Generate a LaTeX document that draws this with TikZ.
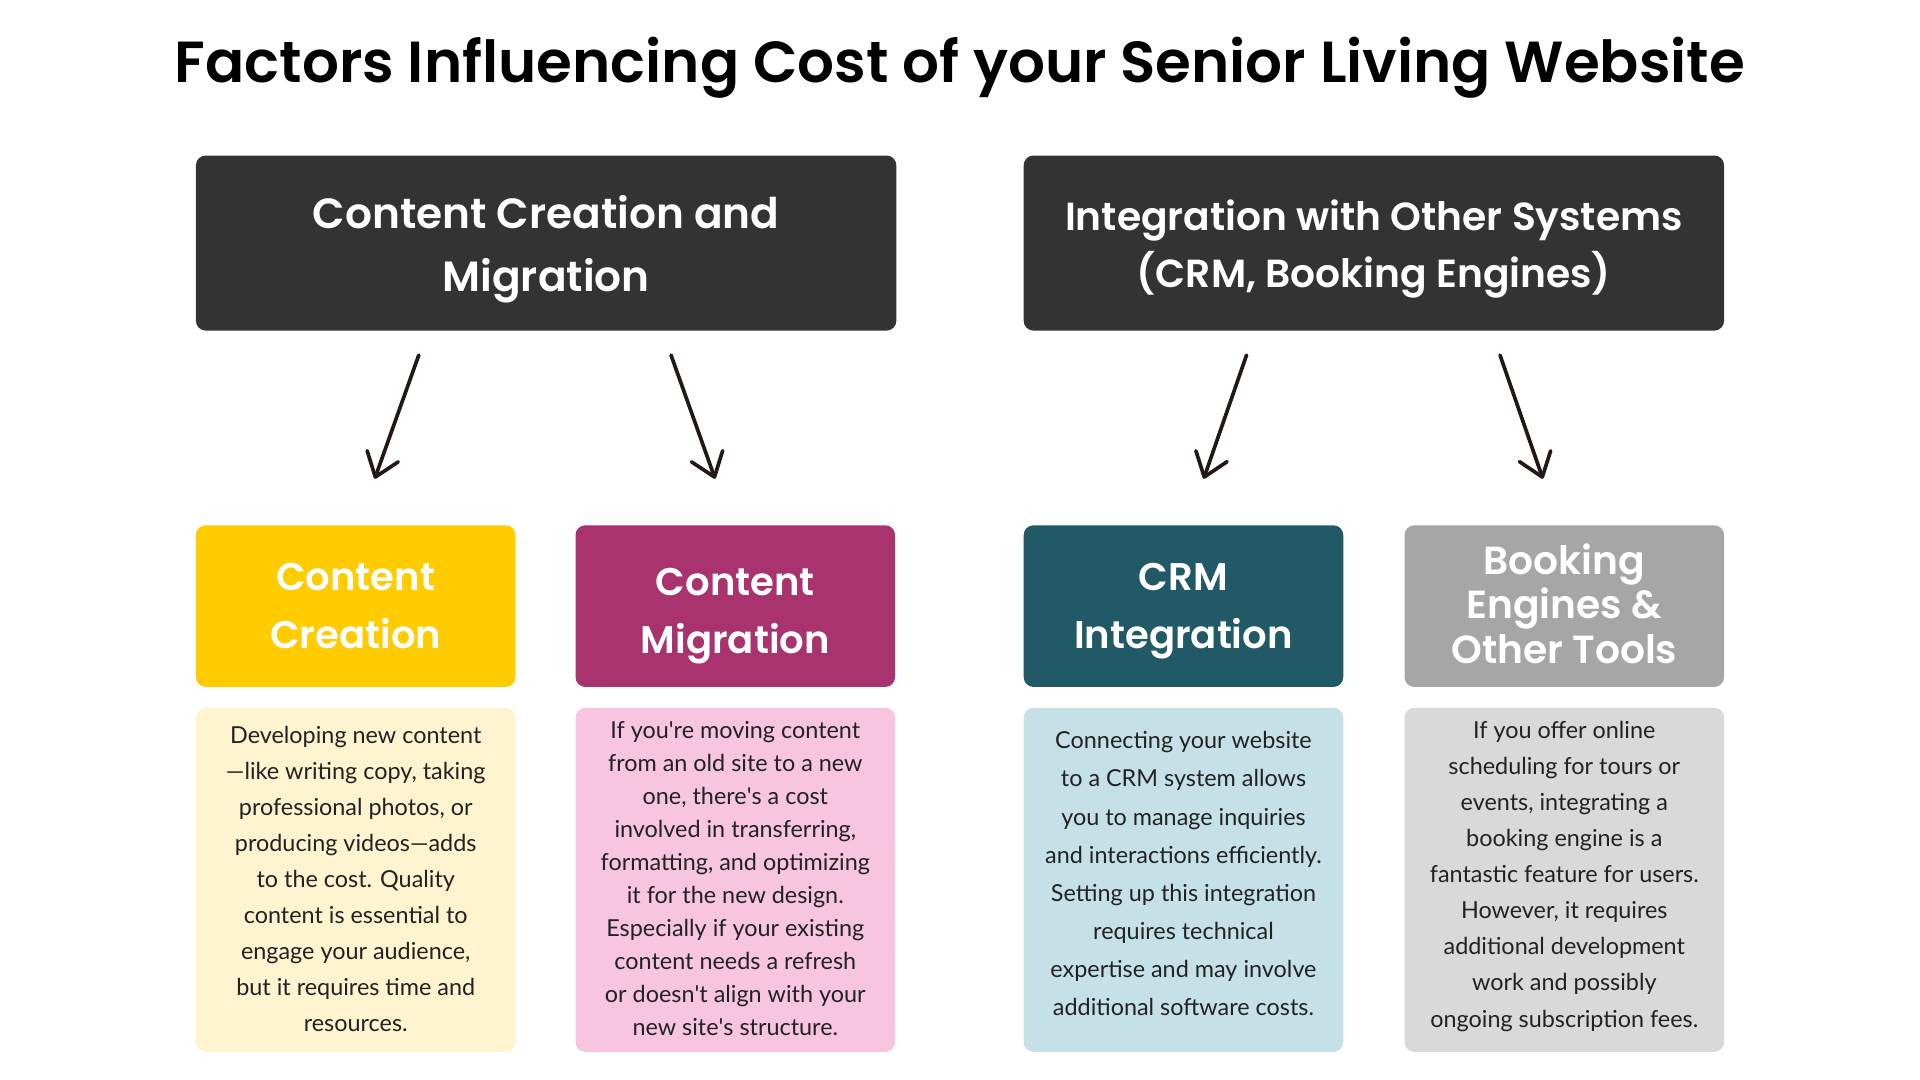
\documentclass[tikz,border=0pt]{standalone}
\usepackage{fontspec}
\setmainfont{Lato}
\newfontfamily\headfont{Poppins}[BoldFont={Poppins SemiBold}]
\usetikzlibrary{arrows.meta}
\definecolor{topdark}{HTML}{333333}
\definecolor{ccyellow}{HTML}{FFCC00}
\definecolor{cmplum}{HTML}{A8336F}
\definecolor{crmteal}{HTML}{215966}
\definecolor{bkgrey}{HTML}{A6A6A6}
\definecolor{ccpale}{HTML}{FFF4CF}
\definecolor{cmpale}{HTML}{F7C5E0}
\definecolor{crmpale}{HTML}{C5E1E7}
\definecolor{bkpale}{HTML}{D9D9D9}
\definecolor{bodytext}{HTML}{222222}
\definecolor{arrowink}{HTML}{231815}

\tikzset{
  topbox/.style={fill=topdark, rounded corners=8pt, minimum width=572pt, minimum height=143pt,
    inner sep=0pt},
  subbox/.style={fill=#1, rounded corners=8pt, minimum width=261pt, minimum height=132pt,
    inner sep=0pt},
  headtext/.style={text=white, align=center, inner sep=0pt},
  infobox/.style={fill=#1, rounded corners=8pt, minimum width=261pt, minimum height=281pt,
    inner sep=0pt},
  infotext/.style={text=bodytext, align=center, inner sep=0pt},
  pointer/.style={draw=arrowink, line width=3pt, line cap=round,
    -{Straight Barb[length=18pt,width=27pt,line width=3pt,round]}}
}

\begin{document}
\begin{tikzpicture}[x=1pt,y=-1pt]
\useasboundingbox (0,0) rectangle (1568,882);
% title
\node (title) at (784,55) {\headfont\fontsize{47.3}{56}\bfseries\selectfont Factors Influencing Cost of your Senior Living Website};
% the two main factors
\node[topbox] (ccm) at (446,198.5) {};
\node[topbox] (ios) at (1122,198.5) {};
\node[headtext, font=\headfont\fontsize{34.5}{52}\bfseries\selectfont] (ccm-t) at ([yshift=-5pt]ccm.center) {Content Creation and\\Migration};
\node[headtext, font=\headfont\fontsize{32}{47}\bfseries\selectfont] (ios-t) at ([yshift=-5pt]ios.center) {Integration with Other Systems\\(CRM, Booking Engines)};
% sub factors
\node[subbox=ccyellow] (cc) at (290.5,495) {};
\node[subbox=cmplum] (cm) at (600.5,495) {};
\node[subbox=crmteal] (crm) at (966.5,495) {};
\node[subbox=bkgrey] (bk) at (1277.5,495) {};
\node[headtext, font=\headfont\fontsize{31.5}{47}\bfseries\selectfont] (cc-t) at (cc.center) {Content\\Creation};
\node[headtext, font=\headfont\fontsize{31.5}{47}\bfseries\selectfont] (cm-t) at ([yshift=-8pt]cm.center) {Content\\Migration};
\node[headtext, font=\headfont\fontsize{31.5}{47}\bfseries\selectfont] (crm-t) at ([yshift=-4pt]crm.center) {CRM\\Integration};
\node[headtext, font=\headfont\fontsize{32}{36.5}\bfseries\selectfont] (bk-t) at ([yshift=2pt]bk.center) {Booking\\Engines \&\\Other Tools};
% descriptions
\node[infobox=ccpale] (ccd) at (290.5,718.5) {};
\node[infobox=cmpale] (cmd) at (600.5,718.5) {};
\node[infobox=crmpale] (crmd) at (966.5,718.5) {};
\node[infobox=bkpale] (bkd) at (1277.5,718.5) {};
\node[infotext, font=\fontsize{19.1}{29.4}\selectfont] (ccd-t) at ([yshift=1pt]ccd.center) {Developing new content\\—like writing copy, taking\\professional photos, or\\producing videos—adds\\to the cost. Quality\\content is essential to\\engage your audience,\\but it requires time and\\resources.};
\node[infotext, font=\fontsize{19.1}{26.9}\selectfont] (cmd-t) at ([yshift=1pt]cmd.center) {If you\textquotesingle re moving content\\from an old site to a new\\one, there\textquotesingle s a cost\\involved in transferring,\\formatting, and optimizing\\it for the new design.\\Especially if your existing\\content needs a refresh\\or doesn\textquotesingle t align with your\\new site\textquotesingle s structure.};
\node[infotext, font=\fontsize{19.1}{31.1}\selectfont] (crmd-t) at ([yshift=5pt]crmd.center) {Connecting your website\\to a CRM system allows\\you to manage inquiries\\and interactions efficiently.\\Setting up this integration\\requires technical\\expertise and may involve\\additional software costs.};
\node[infotext, font=\fontsize{19.1}{29.5}\selectfont] (bkd-t) at ([yshift=3pt]bkd.center) {If you offer online\\scheduling for tours or\\events, integrating a\\booking engine is a\\fantastic feature for users.\\However, it requires\\additional development\\work and possibly\\ongoing subscription fees.};
% arrows
\coordinate (ccm-l) at (342,290);
\coordinate (ccm-r) at (548,290);
\coordinate (ios-l) at (1018,290);
\coordinate (ios-r) at (1225,290);
\coordinate (cc-in) at (306,391);
\coordinate (cm-in) at (584,391);
\coordinate (crm-in) at (983,391);
\coordinate (bk-in) at (1260,391);
\draw[pointer] (ccm-l) -- (cc-in);
\draw[pointer] (ccm-r) -- (cm-in);
\draw[pointer] (ios-l) -- (crm-in);
\draw[pointer] (ios-r) -- (bk-in);
\end{tikzpicture}
\end{document}
